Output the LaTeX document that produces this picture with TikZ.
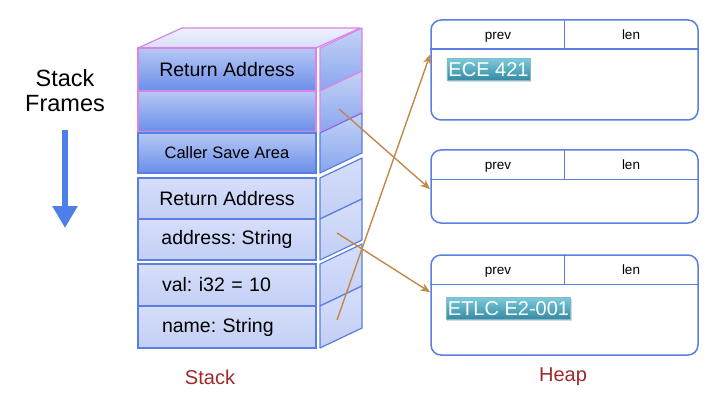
\documentclass[tikz,border=0pt]{standalone}
\usepackage{fontspec}
\setmainfont{Liberation Sans}
\usetikzlibrary{arrows.meta,shadows}
\definecolor{slotline}{HTML}{5B7FE0}
\definecolor{framepink}{HTML}{DC84E6}
\definecolor{deeptop}{HTML}{B6C7F4}
\definecolor{deepbot}{HTML}{6A8FEA}
\definecolor{paletop}{HTML}{D6DEF9}
\definecolor{palebot}{HTML}{C2CEF5}
\definecolor{ptrbrown}{HTML}{C0894A}
\definecolor{labelred}{HTML}{9E2A2A}
\definecolor{tagtop}{HTML}{7CCBDA}
\definecolor{tagbot}{HTML}{3388A3}
\definecolor{downblue}{HTML}{4E7EE8}
\frenchspacing
\begin{document}
\begin{tikzpicture}[x=1pt,y=1pt,
  slot/.style={draw=slotline,line width=1.2pt,minimum width=178pt,inner sep=0pt,
    font=\fontsize{19.5}{22}\selectfont},
  deepslot/.style={slot,top color=deeptop,bottom color=deepbot},
  paleslot/.style={slot,top color=paletop,bottom color=palebot},
  leftslot/.style={paleslot,text width=130pt,align=left},
  side/.style={draw=slotline,line width=1.2pt,line join=round},
  heapbox/.style={draw=slotline,line width=1.5pt,rounded corners=10pt,
    minimum width=267pt,inner sep=0pt},
  hdr/.style={font=\fontsize{13.5}{15}\selectfont,text height=9.5pt,text depth=2.5pt,inner sep=0pt},
  tag/.style={text=white,font=\fontsize{20}{22}\selectfont,inner xsep=1.5pt,
    minimum height=22pt,top color=tagtop,bottom color=tagbot,draw=tagbot!60,
    drop shadow={opacity=0.3,shadow xshift=1pt,shadow yshift=-1.5pt}},
  caption/.style={text=labelred,font=\fontsize{20}{22}\selectfont},
  ptr/.style={draw=ptrbrown,line width=1.4pt,-{Stealth[length=10pt,width=8pt]}}]
\useasboundingbox (0,0) rectangle (720,405);

% stack: top face and side faces
\path[side,draw=framepink,top color=paletop!40,bottom color=paletop]
  (138,357) -- (316,357) -- (360,377) -- (182,377) -- cycle;
\foreach \t/\b in {357/314,314/273}
  \path[side,draw=framepink,top color=deeptop!80,bottom color=deepbot!80]
    (320,\b) -- (362,\b+20) -- (362,\t+20) -- (320,\t) -- cycle;
\path[side,top color=deeptop!80,bottom color=deepbot!80]
  (320,232) -- (362,252) -- (362,292) -- (320,272) -- cycle;
\foreach \t/\b in {227/186,186/145,141/99,99/57}
  \path[side,top color=paletop,bottom color=palebot]
    (320,\b) -- (362,\b+20) -- (362,\t+20) -- (320,\t) -- cycle;

% stack: front face
\node[deepslot,draw=framepink,minimum height=43pt](ra1) at (227,335.5) {Return Address};
\node[deepslot,draw=framepink,minimum height=41pt](blank) at (227,293.5) {};
\node[deepslot,minimum height=40pt,font=\fontsize{16.5}{19}\selectfont](save) at (227,252) {Caller Save Area};
\node[paleslot,minimum height=41pt](ra2) at (227,206.5) {Return Address};
\node[paleslot,minimum height=41pt](addr) at (227,165.5) {address: String};
\node[leftslot,minimum height=42pt](val) at (227,120) {val: i32 = 10};
\node[leftslot,minimum height=42pt](name) at (227,78) {name: String};

% heap
\node[heapbox,minimum height=100pt](h1) at (564.5,335) {};
\node[heapbox,minimum height=73pt](h2) at (564.5,218.5) {};
\node[heapbox,minimum height=100pt](h3) at (564.5,100) {};
\foreach \h in {h1,h2,h3} {
  \draw[slotline,line width=1.5pt] ([yshift=-30pt]\h.north west) -- ([yshift=-30pt]\h.north east);
  \draw[slotline,line width=1.5pt] (\h.north) -- ([yshift=-30pt]\h.north);
  \node[hdr](\h prev) at ([xshift=-66.5pt,yshift=-17pt]\h.north) {prev};
  \node[hdr](\h len) at ([xshift=66.5pt,yshift=-17pt]\h.north) {len};
}
\node[tag](t1) at (488.5,335.5) {ECE 421};
\node[tag](t2) at (508.5,96.5) {ETLC E2-001};

% pointers
\coordinate(p1) at (339,296);
\coordinate(p2) at (337,172);
\coordinate(p3) at (337,85);
\path
(p1) edge[ptr] ([yshift=-40pt]h2.north west)
(p2) edge[ptr] ([yshift=-38pt]h3.north west)
(p3) edge[ptr] ([yshift=-35pt]h1.north west);

% captions
\node[caption](stk) at (210,28) {Stack};
\node[caption](hp) at (563,28) {Heap};
\node[font=\fontsize{23.5}{25}\selectfont,align=center](sf) at (65,314.5) {Stack\\Frames};
\coordinate(d1) at (65,275);
\coordinate(d2) at (65,177);
\draw[downblue,line width=6pt,-{Triangle[length=22pt,width=24pt]}] (d1) -- (d2);
\end{tikzpicture}
\end{document}
